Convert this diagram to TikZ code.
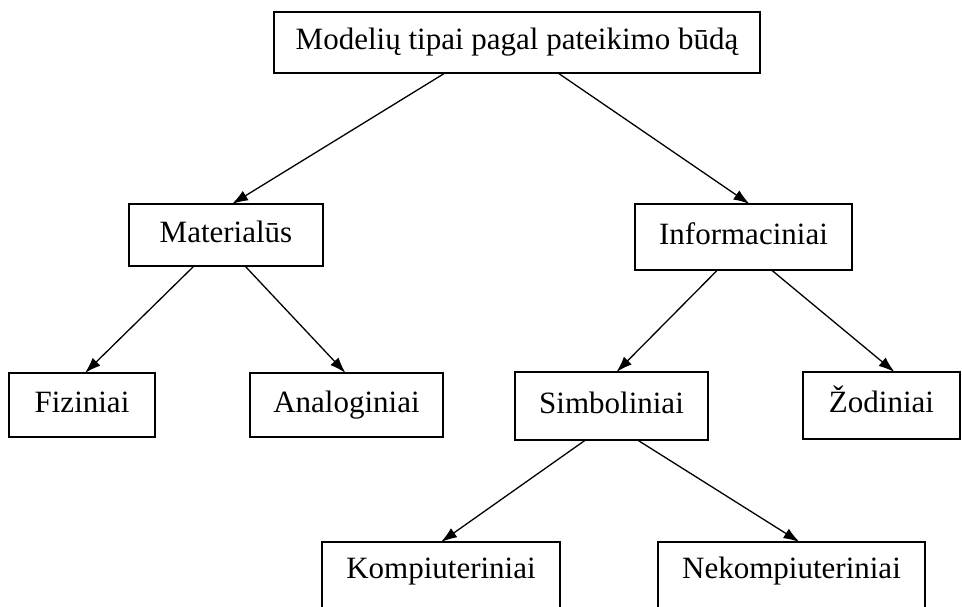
\documentclass[tikz,border=0pt]{standalone}
\usepackage{fontspec}
\setmainfont{Liberation Serif}
\usetikzlibrary{arrows.meta}

\begin{document}
\begin{tikzpicture}[x=1pt,y=-1pt]

\useasboundingbox (0,0) rectangle (962,606);
\clip (0,0) rectangle (962,606);

\tikzstyle{box}=[draw,line width=1.5pt,rectangle,inner sep=0pt,outer sep=0pt,text height=21pt,text depth=7pt,font=\fontsize{31}{36}\selectfont]
\tikzstyle{arr}=[line width=1.3pt,black,-{Latex[length=16pt,width=11pt]}]

\node (top) [box,minimum width=486pt,minimum height=61pt] at (517,42.5) {Modelių tipai pagal pateikimo būdą};

\node (mat) [box,minimum width=194pt,minimum height=62pt] at (226,235) {Materialūs};
\node (inf) [box,minimum width=217pt,minimum height=66pt] at (743.5,237) {Informaciniai};

\node (fiz) [box,minimum width=146pt,minimum height=64pt] at (82,405) {Fiziniai};
\node (ana) [box,minimum width=193pt,minimum height=64pt] at (346.5,405) {Analoginiai};
\node (sim) [box,minimum width=193pt,minimum height=68pt] at (611.5,406) {Simboliniai};
\node (zod) [box,minimum width=157pt,minimum height=67pt] at (881.5,405.5) {Žodiniai};

% apatiniai langeliai nukirpti ties krastu
\node (kom) [box,text depth=19pt,minimum width=238pt,minimum height=70pt] at (441,577) {Kompiuteriniai};
\node (nek) [box,text depth=19pt,minimum width=267pt,minimum height=70pt] at (791.5,577) {Nekompiuteriniai};

% rodykles
\draw [arr] ([xshift=-72pt]top.south) -- ([xshift=6pt]mat.north);
\draw [arr] ([xshift=41pt]top.south) -- ([xshift=6pt]inf.north);

\draw [arr] ([xshift=-32pt]mat.south) -- ([xshift=3pt]fiz.north);
\draw [arr] ([xshift=19pt]mat.south) -- ([xshift=-1pt]ana.north);

\draw [arr] ([xshift=-26pt]inf.south) -- ([xshift=5pt]sim.north);
\draw [arr] ([xshift=28pt]inf.south) -- ([xshift=13pt]zod.north);

\draw [arr] ([xshift=-26pt]sim.south) -- ([xshift=0pt]kom.north);
\draw [arr] ([xshift=26pt]sim.south) -- ([xshift=8pt]nek.north);

\end{tikzpicture}
\end{document}
